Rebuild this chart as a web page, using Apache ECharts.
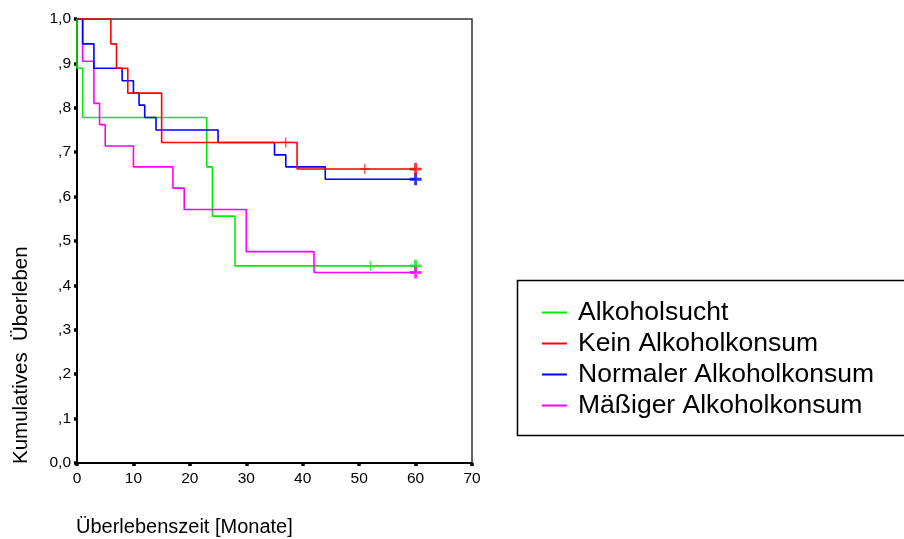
<!DOCTYPE html>
<html>
<head>
<meta charset="utf-8">
<script src="https://cdn.jsdelivr.net/npm/echarts@6/dist/echarts.min.js"></script>
<style>html,body{margin:0;padding:0;background:#fff}#c{width:904px;height:539px}</style>
</head>
<body>
<div id="c"></div>
<script>
// Kaplan-Meier step data (time in months, cumulative survival)
const groups = ["Alkoholsucht", "Kein Alkoholkonsum", "Normaler Alkoholkonsum", "Mäßiger Alkoholkonsum"];
const colors = ["#00ee00", "#ff0000", "#0000ff", "#ff00ff"];

const suchtTime = [0, 0, 1, 23, 24, 28, 60];
const suchtSurv = [1, 0.889, 0.778, 0.667, 0.556, 0.444, 0.444];
const suchtCensor = [52, 60];

const keinTime = [0, 6, 7, 9, 15, 39, 60];
const keinSurv = [1, 0.944, 0.889, 0.833, 0.722, 0.662, 0.662];
const keinCensor = [37, 51, 60];

const normalTime = [0, 1, 3, 8, 10, 11, 12, 14, 25, 35, 37, 44, 60];
const normalSurv = [1, 0.944, 0.889, 0.861, 0.833, 0.806, 0.778, 0.750, 0.722, 0.694, 0.667, 0.639, 0.639];
const normalCensor = [60];

const massigTime = [0, 1, 3, 4, 5, 10, 17, 19, 30, 42, 60];
const massigSurv = [1, 0.905, 0.810, 0.762, 0.714, 0.667, 0.619, 0.571, 0.476, 0.429, 0.429];
const massigCensor = [60];

const xTicks = [0, 10, 20, 30, 40, 50, 60, 70];
const yTickLabels = ["0,0", ",1", ",2", ",3", ",4", ",5", ",6", ",7", ",8", ",9", "1,0"];

function zip(t, s) { return t.map((v, i) => [v, s[i]]); }
// survival value at a censor time = value of last step at or before it
function censorPts(t, s, c) {
  return c.map(ct => {
    let v = s[0];
    for (let i = 0; i < t.length; i++) if (t[i] <= ct) v = s[i];
    return [ct, v];
  });
}

const plusThin = 'path://M4.4,0 H5.6 V4.4 H10 V5.6 H5.6 V10 H4.4 V5.6 H0 V4.4 H4.4 Z';
const plusBold = 'path://M3.8,0 H6.2 V3.8 H10 V6.2 H6.2 V10 H3.8 V6.2 H0 V3.8 H3.8 Z';

const sets = [
  {name: groups[0], color: colors[0], t: suchtTime, s: suchtSurv, c: suchtCensor, z: 2},
  {name: groups[3], color: colors[3], t: massigTime, s: massigSurv, c: massigCensor, z: 3},
  {name: groups[2], color: colors[2], t: normalTime, s: normalSurv, c: normalCensor, z: 4},
  {name: groups[1], color: colors[1], t: keinTime, s: keinSurv, c: keinCensor, z: 5}
];

const series = [];
sets.forEach(g => {
  series.push({
    name: g.name, type: 'line', step: 'end', data: zip(g.t, g.s),
    symbol: 'none', z: g.z, color: g.color,
    lineStyle: {color: g.color, width: 1.6}, animation: false
  });
  censorPts(g.t, g.s, g.c).forEach(p => {
    const end = p[0] === 60;
    series.push({
      name: g.name, type: 'scatter', data: [p], z: g.z + 5, color: g.color,
      symbol: end ? plusBold : plusThin, symbolSize: end ? 12 : 10,
      itemStyle: {color: g.color}, silent: true, animation: false
    });
  });
});

const chart = echarts.init(document.getElementById('c'), null, {renderer: 'canvas'});
chart.setOption({
  backgroundColor: '#ffffff',
  animation: false,
  textStyle: {fontFamily: 'Liberation Sans, Arial, sans-serif'},
  grid: {left: 77, right: 432, top: 19, bottom: 76, show: true, borderColor: '#333', borderWidth: 1.5, backgroundColor: 'transparent'},
  xAxis: {
    type: 'value', min: xTicks[0], max: xTicks[xTicks.length - 1], interval: 10,
    axisLine: {onZero: false, lineStyle: {color: '#000', width: 2}},
    axisTick: {show: true, length: 3, lineStyle: {color: '#000', width: 3.5}},
    axisLabel: {color: '#000', fontSize: 15.5, margin: 8, fontFamily: 'Liberation Sans'},
    splitLine: {show: false}
  },
  yAxis: {
    type: 'value', min: 0, max: 1, interval: 0.1,
    axisLine: {onZero: false, lineStyle: {color: '#000', width: 2}},
    axisTick: {show: true, length: 3, lineStyle: {color: '#000', width: 3.5}},
    axisLabel: {color: '#000', fontSize: 15.5, margin: 6, fontFamily: 'Liberation Sans',
      formatter: v => yTickLabels[Math.round(v * 10)]},
    splitLine: {show: false}
  },
  legend: {
    data: groups, orient: 'vertical', left: 542, top: 297, padding: 0,
    itemGap: 0, itemWidth: 25, itemHeight: 2, icon: 'rect',
    textStyle: {color: '#000', fontSize: 26.5, lineHeight: 31, fontFamily: 'Liberation Sans', padding: [0, 0, 0, 6]},
    selectedMode: false
  },
  graphic: [
    {type: 'rect', shape: {x: 517.5, y: 280.5, width: 420, height: 155}, style: {fill: 'none', stroke: '#000', lineWidth: 1.5}, z: -1},
    {type: 'text', x: 76, y: 527, style: {text: 'Überlebenszeit [Monate]', font: '20px "Liberation Sans"', fill: '#000', textVerticalAlign: 'middle'}},
    {type: 'text', x: 21, y: 464, rotation: Math.PI / 2, style: {text: 'Kumulatives  Überleben', font: '20.5px "Liberation Sans"', fill: '#000', textAlign: 'left', textVerticalAlign: 'middle'}}
  ],
  series: series
});
</script>
</body>
</html>
